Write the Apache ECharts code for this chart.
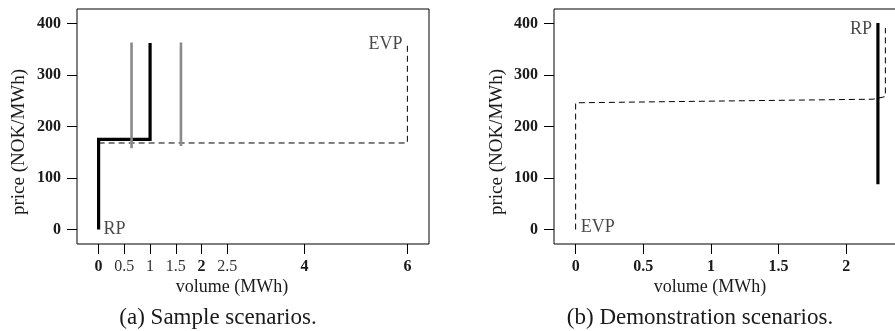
<!DOCTYPE html>
<html>
<head>
<meta charset="utf-8">
<script src="https://cdn.jsdelivr.net/npm/echarts@6/dist/echarts.min.js"></script>
<style>
html,body{margin:0;padding:0;background:#fff;}
#c{width:895px;height:331px;}
</style>
</head>
<body>
<div id="c"></div>
<script>
// ---- data (panel a: sample scenarios) ----
var aRP_x = [0, 0, 1, 1];
var aRP_y = [0, 175, 175, 362];
var aSample1_x = [0.64, 0.64];
var aSample1_y = [158, 363];
var aSample2_x = [1.6, 1.6];
var aSample2_y = [162, 363];
var aEVP_x = [0, 6, 6];
var aEVP_y = [168, 168, 362];
var aXTicks = [0, 0.5, 1, 1.5, 2, 2.5, 4, 6];
var aXBold = [0, 2, 4, 6];

// ---- data (panel b: demonstration scenarios) ----
var bRP_x = [2.235, 2.235];
var bRP_y = [88, 401];
var bEVP_x = [0, 0, 2.2, 2.29, 2.29];
var bEVP_y = [0, 246, 253, 258, 391];
var bXTicks = [0, 0.5, 1, 1.5, 2];

var yTicks = [0, 100, 200, 300, 400];

function zip(xs, ys) { return xs.map(function (x, i) { return [x, ys[i]]; }); }

var FONT = 'Liberation Serif';
var TXT = '#1a1a1a';

var chart = echarts.init(document.getElementById('c'), null, {renderer: 'canvas'});

function yAxis(gi) {
  return {
    type: 'value', gridIndex: gi, min: -28, max: 428, position: 'left',
    splitLine: {show: false},
    axisLine: {show: true, onZero: false, lineStyle: {color: 'rgba(0,0,0,0)', width: 0}},
    axisTick: {show: true, inside: false, length: 10, customValues: yTicks, lineStyle: {color: '#000', width: 1}},
    axisLabel: {show: true, inside: false, customValues: yTicks, margin: 16, fontFamily: FONT, fontSize: 16,
      fontWeight: 'bold', color: TXT}
  };
}

var option = {
  animation: false,
  backgroundColor: '#fff',
  grid: [
    {left: 77, top: 9, width: 352, height: 235, show: true, borderColor: '#000', borderWidth: 1, backgroundColor: 'transparent', outerBoundsMode: 'none'},
    {left: 554, top: 9, width: 353, height: 235, show: true, borderColor: '#000', borderWidth: 1, backgroundColor: 'transparent', outerBoundsMode: 'none'}
  ],
  xAxis: [
    {
      type: 'value', gridIndex: 0, min: -0.42, max: 6.42, position: 'bottom',
      splitLine: {show: false},
      axisLine: {show: true, onZero: false, lineStyle: {color: 'rgba(0,0,0,0)', width: 0}},
      axisTick: {show: true, inside: false, length: 10, customValues: aXTicks, lineStyle: {color: '#000', width: 1}},
      axisLabel: {show: true, inside: false, customValues: aXTicks, margin: 15, fontFamily: FONT, fontSize: 16, color: TXT,
        formatter: function (v) {
          return aXBold.indexOf(v) >= 0 ? '{b|' + v + '}' : '{n|' + v + '}';
        },
        rich: {
          b: {fontFamily: FONT, fontSize: 16, fontWeight: 'bold', color: TXT},
          n: {fontFamily: FONT, fontSize: 16, fontWeight: 'normal', color: '#333'}
        }
      }
    },
    {
      type: 'value', gridIndex: 1, min: -0.16, max: 2.45, position: 'bottom',
      splitLine: {show: false},
      axisLine: {show: true, onZero: false, lineStyle: {color: 'rgba(0,0,0,0)', width: 0}},
      axisTick: {show: true, inside: false, length: 10, customValues: bXTicks, lineStyle: {color: '#000', width: 1}},
      axisLabel: {show: true, inside: false, customValues: bXTicks, margin: 15, fontFamily: FONT, fontSize: 16,
        fontWeight: 'bold', color: TXT}
    }
  ],
  yAxis: [yAxis(0), yAxis(1)],
  graphic: [
    {type: 'text', x: 232, y: 287, style: {text: 'volume (MWh)', fontFamily: FONT, fontSize: 18, fill: TXT, align: 'center', verticalAlign: 'middle'}},
    {type: 'text', x: 710, y: 287, style: {text: 'volume (MWh)', fontFamily: FONT, fontSize: 18, fill: TXT, align: 'center', verticalAlign: 'middle'}},
    {type: 'text', x: 19, y: 142, rotation: Math.PI / 2, style: {text: 'price (NOK/MWh)', fontFamily: FONT, fontSize: 19, fill: TXT, align: 'center', verticalAlign: 'middle'}},
    {type: 'text', x: 497, y: 142, rotation: Math.PI / 2, style: {text: 'price (NOK/MWh)', fontFamily: FONT, fontSize: 19, fill: TXT, align: 'center', verticalAlign: 'middle'}},
    {type: 'text', x: 218, y: 318, style: {text: '(a) Sample scenarios.', fontFamily: FONT, fontSize: 23, fill: TXT, align: 'center', verticalAlign: 'middle'}},
    {type: 'text', x: 700, y: 318, style: {text: '(b) Demonstration scenarios.', fontFamily: FONT, fontSize: 23, fill: TXT, align: 'center', verticalAlign: 'middle'}}
  ],
  series: [
    {type: 'line', xAxisIndex: 0, yAxisIndex: 0, data: zip(aEVP_x, aEVP_y), showSymbol: false,
      lineStyle: {color: '#000', width: 1, type: [6, 4]}, z: 2},
    {type: 'line', xAxisIndex: 0, yAxisIndex: 0, data: zip(aRP_x, aRP_y), showSymbol: false,
      lineStyle: {color: '#000', width: 3.2, cap: 'butt', join: 'miter'}, z: 3},
    {type: 'line', xAxisIndex: 0, yAxisIndex: 0, data: zip(aSample1_x, aSample1_y), showSymbol: false,
      lineStyle: {color: '#8a8a8a', width: 2.6}, z: 4},
    {type: 'line', xAxisIndex: 0, yAxisIndex: 0, data: zip(aSample2_x, aSample2_y), showSymbol: false,
      lineStyle: {color: '#8a8a8a', width: 2.6}, z: 4},
    {type: 'scatter', xAxisIndex: 0, yAxisIndex: 0, symbolSize: 0, silent: true,
      data: [{value: [aRP_x[0], aRP_y[0]], label: {formatter: 'RP', position: 'right', distance: 5}},
             {value: [aEVP_x[2], aEVP_y[2]], label: {formatter: 'EVP', position: 'left', distance: 5, offset: [0, 1]}}],
      label: {show: true, fontFamily: FONT, fontSize: 18, color: TXT}, z: 5},

    {type: 'line', xAxisIndex: 1, yAxisIndex: 1, data: zip(bEVP_x, bEVP_y), showSymbol: false,
      lineStyle: {color: '#000', width: 1, type: [6, 4]}, z: 2},
    {type: 'line', xAxisIndex: 1, yAxisIndex: 1, data: zip(bRP_x, bRP_y), showSymbol: false,
      lineStyle: {color: '#000', width: 3.2, cap: 'butt'}, z: 3},
    {type: 'scatter', xAxisIndex: 1, yAxisIndex: 1, symbolSize: 0, silent: true,
      data: [{value: [bRP_x[1], bRP_y[1]], label: {formatter: 'RP', position: 'left', distance: 6, offset: [0, 6]}},
             {value: [bEVP_x[0], bEVP_y[0]], label: {formatter: 'EVP', position: 'right', distance: 5, offset: [0, -2]}}],
      label: {show: true, fontFamily: FONT, fontSize: 18, color: TXT}, z: 5}
  ]
};
chart.setOption(option);
</script>
</body>
</html>
